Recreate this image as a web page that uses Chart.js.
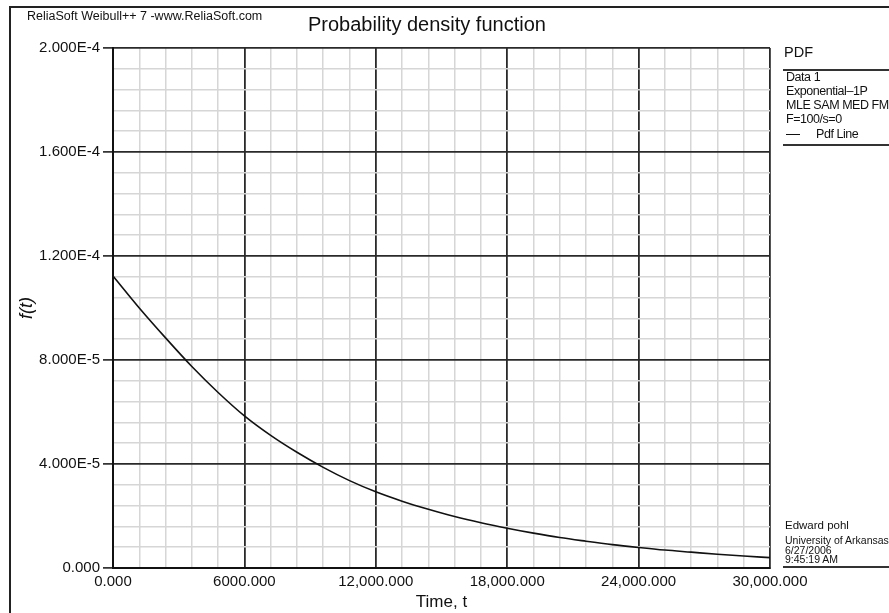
<!DOCTYPE html>
<html>
<head>
<meta charset="utf-8">
<script src="https://cdn.jsdelivr.net/npm/chart.js@4.4.1/dist/chart.umd.min.js"></script>
<style>
  html, body { margin: 0; padding: 0; background: #fff; }
  #wrap { position: relative; width: 889px; height: 613px; overflow: hidden; font-family: "Liberation Sans", Arial, sans-serif; color: #111; }
  #c { position: absolute; left: 0; top: 0; }
  .t { position: absolute; white-space: nowrap; }
  #frame { position: absolute; left: 9px; top: 6px; width: 1000px; height: 1000px; border-top: 2px solid #222; border-left: 2px solid #222; }
  .rule { position: absolute; left: 783px; width: 120px; background: #333; }
  .lg { position: absolute; left: 786px; font-size: 12.5px; letter-spacing: -0.45px; line-height: 14px; white-space: nowrap; }
  .au { position: absolute; left: 785px; font-size: 10.5px; line-height: 10px; white-space: nowrap; }
</style>
</head>
<body>
<div id="wrap">
  <canvas id="c" width="889" height="613"></canvas>
  <div id="frame"></div>
  <div class="t" style="left:27px; top:9px; font-size:12.5px;">ReliaSoft Weibull++ 7 -www.ReliaSoft.com</div>
  <div class="t" style="left:308px; top:13px; font-size:20px;">Probability density function</div>
  <div class="t" style="left:784px; top:44px; font-size:14.5px;">PDF</div>
  <div class="rule" style="top:69px; height:1.5px;"></div>
  <div class="lg" style="top:70px;">Data 1</div>
  <div class="lg" style="top:84px;">Exponential–1P</div>
  <div class="lg" style="top:98px;">MLE SAM MED FM</div>
  <div class="lg" style="top:112px;">F=100/s=0</div>
  <div class="lg" style="top:127px;"><span style="display:inline-block;width:14px;height:1.3px;background:#111;vertical-align:middle;margin-right:16px;"></span>Pdf Line</div>
  <div class="rule" style="top:144px; height:2px;"></div>
  <div class="t" style="left:785px; top:519px; font-size:11.5px;">Edward pohl</div>
  <div class="au" style="top:535px;">University of Arkansas</div>
  <div class="au" style="top:545px;">6/27/2006</div>
  <div class="au" style="top:554px;">9:45:19 AM</div>
  <div class="rule" style="top:566px; height:1.5px;"></div>
</div>
<script>
// ---- data ----
const timeValues = [0, 1200, 2400, 3600, 4800, 6000, 7200, 8400, 9600, 10800, 12000, 13200, 14400,
  15600, 16800, 18000, 19200, 20400, 21600, 22800, 24000, 25200, 26400, 27600, 28800, 30000];
const pdfValues = [1.123e-4, 1.0e-4, 8.85e-5, 7.75e-5, 6.75e-5, 5.85e-5, 5.1e-5, 4.45e-5, 3.87e-5, 3.36e-5,
  2.93e-5, 2.57e-5, 2.26e-5, 1.98e-5, 1.74e-5, 1.53e-5, 1.34e-5, 1.17e-5, 1.03e-5, 9.0e-6,
  7.9e-6, 6.9e-6, 6.1e-6, 5.3e-6, 4.6e-6, 4.0e-6];
const xTickLabels = ["0.000", "6000.000", "12,000.000", "18,000.000", "24,000.000", "30,000.000"];
const yTickLabels = ["0.000", "4.000E-5", "8.000E-5", "1.200E-4", "1.600E-4", "2.000E-4"];
const seriesName = "Pdf Line";
const xTitle = "Time, t";
const yTitle = "f(t)";

const points = timeValues.map((t, i) => ({ x: t, y: pdfValues[i] }));
const major = (ctx) => ctx.index % 5 === 0;
const FONT = "'Liberation Sans', Arial, sans-serif";

new Chart(document.getElementById('c'), {
  type: 'line',
  data: {
    datasets: [{
      label: seriesName,
      data: points,
      borderColor: '#111',
      borderWidth: 1.6,
      pointRadius: 0,
      fill: false,
      cubicInterpolationMode: 'monotone'
    }]
  },
  options: {
    responsive: false,
    animation: false,
    layout: { padding: { left: 0, top: 48, right: 119, bottom: 0 } },
    plugins: { legend: { display: false }, tooltip: { enabled: false }, title: { display: false } },
    scales: {
      x: {
        type: 'linear',
        min: 0, max: 30000,
        afterFit: (s) => { s.height = 45; },
        ticks: {
          stepSize: 1200,
          autoSkip: false,
          maxRotation: 0,
          padding: 5,
          color: '#111',
          font: { family: FONT, size: 15 },
          callback: (v, i) => (i % 5 === 0 ? xTickLabels[i / 5] : '')
        },
        grid: {
          color: (ctx) => major(ctx) ? '#2a2a2a' : '#d6d6d6',
          lineWidth: (ctx) => major(ctx) ? 1.8 : 1.5,
          drawTicks: false
        },
        border: { color: '#111', width: 2 },
        title: { display: true, text: xTitle, color: '#111', font: { family: FONT, size: 17 }, padding: { top: 0, bottom: 0 } }
      },
      y: {
        type: 'linear',
        min: 0, max: 2e-4,
        afterFit: (s) => { s.width = 113; },
        ticks: {
          stepSize: 8e-6,
          autoSkip: false,
          padding: 3,
          color: '#111',
          font: { family: FONT, size: 15 },
          callback: (v, i) => (i % 5 === 0 ? yTickLabels[i / 5] : '')
        },
        grid: {
          color: (ctx) => major(ctx) ? '#2a2a2a' : '#d6d6d6',
          lineWidth: (ctx) => major(ctx) ? 1.8 : 1.5,
          tickColor: (ctx) => major(ctx) ? '#111' : 'rgba(0,0,0,0)',
          tickLength: 10,
          tickWidth: 1.5
        },
        border: { color: '#111', width: 2 },
        title: { display: true, text: yTitle, color: '#111', font: { family: FONT, size: 18, style: 'italic' }, padding: { top: 16, bottom: 0 } }
      }
    }
  }
});
</script>
</body>
</html>
